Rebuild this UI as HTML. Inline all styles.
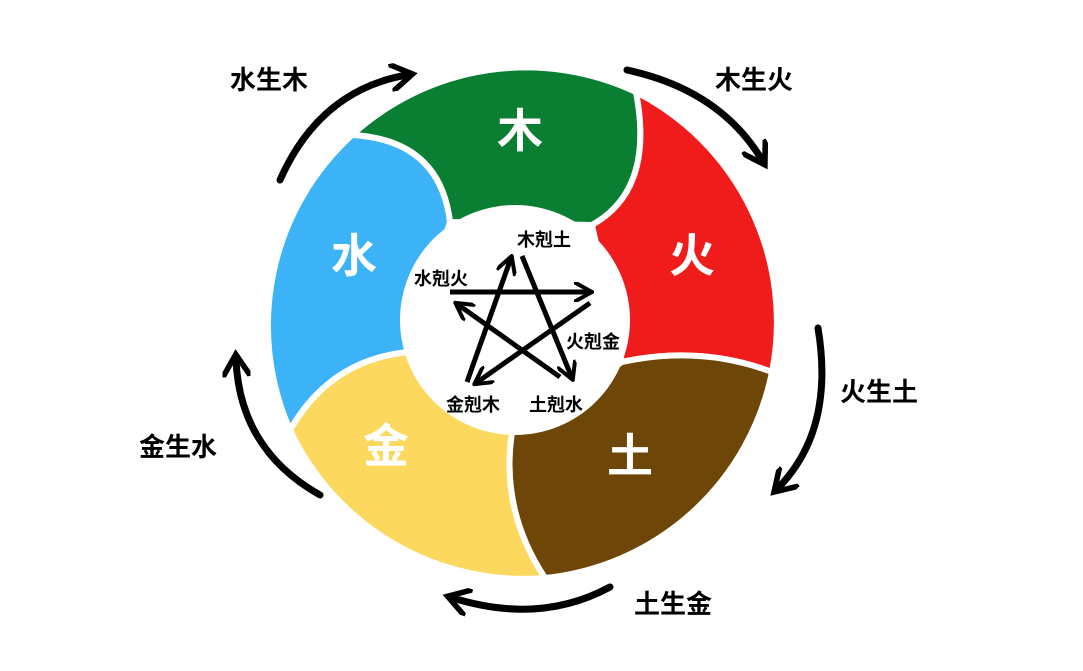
<!DOCTYPE html>
<html><head><meta charset="utf-8"><style>
body{margin:0;background:#fff}
svg{display:block}
text{font-family:"Liberation Sans","Noto Sans CJK SC",sans-serif;font-weight:bold}
</style></head><body>
<svg width="1083" height="671" viewBox="0 0 1083 671" xmlns="http://www.w3.org/2000/svg">
<defs>
<marker id="ah" viewBox="0 0 10 10" refX="6" refY="5" markerWidth="4" markerHeight="4" orient="auto" markerUnits="strokeWidth">
<path d="M0,0 L8,5 L0,10" fill="none" stroke="#000" stroke-width="2"/></marker>
<marker id="as" viewBox="0 0 10 10" refX="8" refY="5" markerWidth="4" markerHeight="4" orient="auto" markerUnits="strokeWidth">
<path d="M0,0 L9,5 L0,10" fill="none" stroke="#000" stroke-width="2"/></marker>
</defs>
<rect width="1083" height="671" fill="#fff"/>
<g stroke="#fff" stroke-width="6" stroke-linejoin="round">
<path d="M352,135 A258,258 0 0 1 636,92 Q655,190 592,225 L450,222 Q440,140 352,135 Z" fill="#0a7f32"/>
<path d="M636,92 A258,258 0 0 1 772,372 Q700,345 622,362 L592,225 Q655,190 636,92 Z" fill="#f01c1c"/>
<path d="M772,372 A258,258 0 0 1 545,578 Q500,510 512,432 L622,362 Q700,345 772,372 Z" fill="#6e4608"/>
<path d="M545,578 A258,258 0 0 1 290,430 Q330,360 408,352 L512,432 Q500,510 545,578 Z" fill="#fcd95e"/>
<path d="M290,430 A258,258 0 0 1 352,135 Q440,140 450,222 L408,352 Q330,360 290,430 Z" fill="#3cb3f7"/>
</g>
<circle cx="515" cy="320" r="115" fill="#fff"/>
<g fill="#fff" font-size="46" text-anchor="middle">
<text x="520" y="147">木</text>
<text x="692" y="272">火</text>
<text x="630" y="472">土</text>
<text x="386" y="462">金</text>
<text x="354" y="272">水</text>
</g>
<g stroke="#000" stroke-width="5" fill="none" marker-end="url(#as)">
<line x1="467" y1="382" x2="511" y2="258"/>
<line x1="522" y1="256" x2="572" y2="378"/>
<line x1="560" y1="377" x2="457" y2="304"/>
<line x1="450" y1="292" x2="590" y2="292"/>
<line x1="590" y1="303" x2="476" y2="383"/>
</g>
<g font-size="18" fill="#000">
<text x="517" y="246">木剋土</text>
<text x="414" y="285">水剋火</text>
<text x="566" y="348">火剋金</text>
<text x="446" y="411">金剋木</text>
<text x="529" y="411">土剋水</text>
</g>
<g stroke="#000" stroke-width="7" fill="none" stroke-linecap="round" marker-end="url(#ah)">
<path d="M280,180 Q320,90 407,75"/>
<path d="M627,70 Q720,90 762,160"/>
<path d="M818,328 Q835,430 778,488"/>
<path d="M610,587 Q540,625 453,598"/>
<path d="M320,495 Q240,450 236,360"/>
</g>
<g font-size="26" fill="#000">
<text x="230" y="89">水生木</text>
<text x="715" y="89">木生火</text>
<text x="840" y="401">火生土</text>
<text x="634" y="613">土生金</text>
<text x="139" y="456">金生水</text>
</g>
</svg>
</body></html>
